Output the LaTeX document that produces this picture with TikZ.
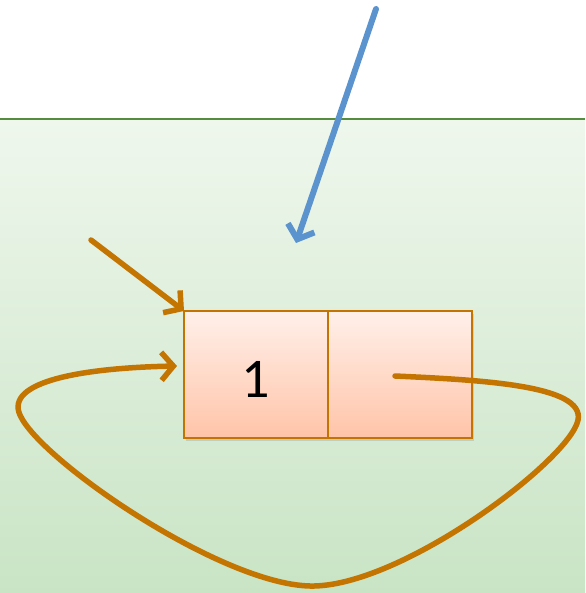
\documentclass[tikz,border=0pt]{standalone}
\usepackage{fontspec}
\setmainfont{Carlito}
\usetikzlibrary{arrows.meta, positioning, shadows}
\definecolor{cLink}{RGB}{196,116,0}
\definecolor{cBlue}{RGB}{91,147,207}
\definecolor{cLine}{RGB}{84,140,64}
\definecolor{cSeaTop}{RGB}{239,247,237}
\definecolor{cSeaBot}{RGB}{201,228,197}
\definecolor{cCellTop}{RGB}{255,240,234}
\definecolor{cCellBot}{RGB}{255,196,168}
\tikzset{
    cell/.style={rectangle, minimum width=144pt, minimum height=127pt, inner sep=0pt, outer sep=0pt, draw=cLink, line width=2.2pt, top color=cCellTop, bottom color=cCellBot, drop shadow={opacity=0.25, shadow xshift=2pt, shadow yshift=-3pt}, font=\fontsize{56}{60}\selectfont, text height=46pt, text depth=0pt},
    linkarrow/.style={-{Straight Barb[length=12pt, width=28pt, line width=5.5pt]}, line width=5.5pt, draw=cLink, line cap=round},
    ptrarrow/.style={-{Straight Barb[length=12pt, width=28pt, line width=6pt]}, line width=6pt, draw=cBlue, line cap=round},
}
\begin{document}
\begin{tikzpicture}[x=1pt, y=-1pt]
    \useasboundingbox (0,0) rectangle (585,593);
    % water region
    \shade[top color=cSeaTop, bottom color=cSeaBot] (0,119) rectangle (585,593);
    \draw[cLine, line width=2pt] (0,119) -- (585,119);
    % list node
    \node[cell] (val) at (256,374.5) {1};
    \node[cell, right=0pt of val] (nxt) {};
    % free ends
    \coordinate (headtail) at (91,240);
    \coordinate (ptrtail) at (376,9);
    \coordinate (ptrtip) at (296,243);
    \coordinate (loopstart) at (395,376);
    \coordinate (looptip) at (177,366);
    \draw[linkarrow] (headtail) -- (val.north west);
    \draw[ptrarrow] (ptrtail) -- (ptrtip);
    \draw[linkarrow] (loopstart) .. controls (480,380) and (585,385) .. (578,420)
        .. controls (570,460) and (400,588) .. (310,586)
        .. controls (220,584) and (40,460) .. (20,415)
        .. controls (5,382) and (80,368) .. (looptip);
\end{tikzpicture}
\end{document}
